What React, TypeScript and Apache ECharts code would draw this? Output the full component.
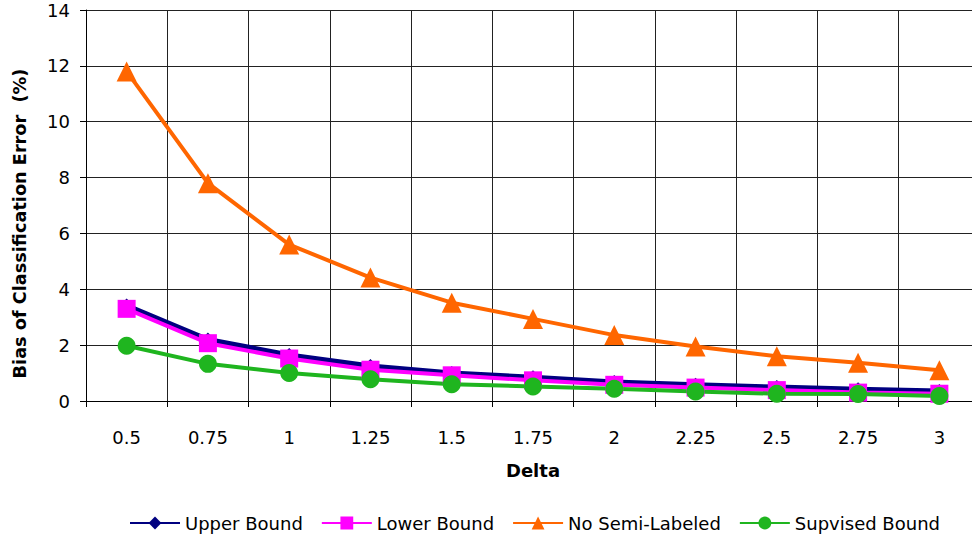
import React, { useEffect, useRef } from "react";
import * as echarts from "echarts";

// Delta values along the category axis
const deltas = ["0.5", "0.75", "1", "1.25", "1.5", "1.75", "2", "2.25", "2.5", "2.75", "3"];

// Bias of classification error (%) per method
const upperBound = [3.42, 2.2, 1.65, 1.25, 1.0, 0.85, 0.68, 0.58, 0.5, 0.42, 0.36];
const lowerBound = [3.3, 2.07, 1.52, 1.12, 0.92, 0.74, 0.58, 0.48, 0.39, 0.3, 0.26];
const noSemiLabeled = [11.8, 7.8, 5.6, 4.42, 3.52, 2.94, 2.36, 1.95, 1.6, 1.37, 1.1];
const supervisedBound = [1.98, 1.33, 1.0, 0.78, 0.6, 0.52, 0.44, 0.34, 0.26, 0.25, 0.18];

const seriesNames = ["Upper Bound", "Lower Bound", "No Semi-Labeled", "Supvised Bound"];

const FONT = 'Verdana, "DejaVu Sans", sans-serif';

export default function App() {
  const ref = useRef<HTMLDivElement>(null);

  useEffect(() => {
    if (!ref.current) return;
    const chart = echarts.init(ref.current, undefined, { renderer: "svg" });

    const lineSeries = (
      name: string,
      data: number[],
      color: string,
      symbol: string,
      symbolSize: number,
      width: number
    ) => ({
      name,
      type: "line",
      data,
      symbol,
      symbolSize,
      showAllSymbol: true,
      itemStyle: { color, borderWidth: 0 },
      lineStyle: { color, width },
      emphasis: { disabled: true },
    });

    chart.setOption({
      animation: false,
      backgroundColor: "#ffffff",
      textStyle: { fontFamily: FONT, color: "#000" },
      grid: {
        left: 86,
        top: 10,
        right: -8,
        bottom: 136,
        containLabel: false,
        outerBoundsMode: "none",
      },
      legend: {
        left: 124,
        top: 509,
        itemWidth: 50,
        itemHeight: 16,
        itemGap: 18,
        data: seriesNames,
        textStyle: { fontFamily: FONT, fontSize: 18, color: "#000" },
      },
      xAxis: {
        type: "category",
        data: deltas,
        boundaryGap: true,
        name: "Delta",
        nameLocation: "middle",
        nameGap: 60,
        nameTextStyle: { fontFamily: FONT, fontSize: 18, fontWeight: "bold", color: "#000" },
        axisLine: { lineStyle: { color: "#000", width: 1 } },
        axisTick: { show: true, length: 6, lineStyle: { color: "#000" } },
        axisLabel: { fontFamily: FONT, fontSize: 18, color: "#000", margin: 27 },
        splitLine: { show: true, lineStyle: { color: "#222", width: 1 } },
      },
      yAxis: {
        type: "value",
        min: 0,
        max: 14,
        interval: 2,
        name: "Bias of Classification Error  (%)",
        nameLocation: "middle",
        nameGap: 57,
        nameTextStyle: {
          fontFamily: FONT,
          fontSize: 17.7,
          fontWeight: "bold",
          color: "#000",
          padding: [0, 36, 0, 0],
        },
        axisLine: { show: true, lineStyle: { color: "#000", width: 1 } },
        axisTick: { show: true, length: 6, lineStyle: { color: "#000" } },
        axisLabel: { fontFamily: FONT, fontSize: 18, color: "#000", margin: 16 },
        splitLine: { show: true, lineStyle: { color: "#222", width: 1 } },
      },
      series: [
        lineSeries(seriesNames[0], upperBound, "#000080", "diamond", 14, 5),
        lineSeries(seriesNames[1], lowerBound, "#ff00ff", "rect", 18, 4),
        lineSeries(seriesNames[2], noSemiLabeled, "#ff6600", "triangle", 20, 4),
        lineSeries(seriesNames[3], supervisedBound, "#1fb51f", "circle", 18, 4),
      ],
    });

    return () => chart.dispose();
  }, []);

  return (
    <div
      ref={ref}
      style={{ position: "fixed", left: 0, top: 0, width: 972, height: 537, background: "#fff" }}
    />
  );
}
